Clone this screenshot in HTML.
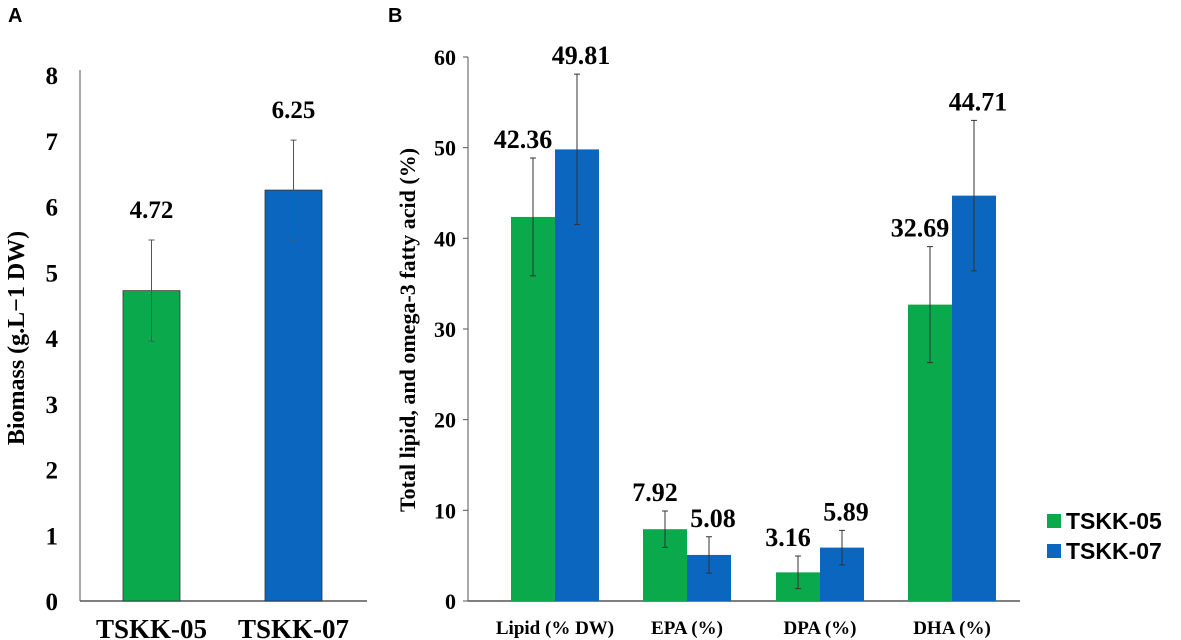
<!DOCTYPE html>
<html><head><meta charset="utf-8"><style>
body{margin:0;background:#fff;}
svg{display:block;font-family:"Liberation Serif",serif;font-weight:bold;}
</style></head><body>
<svg id="c" width="1181" height="640" viewBox="0 0 1181 640"></svg>
<script>
const aCategories=["TSKK-05","TSKK-07"];
const aValues=[4.72,6.25];
const aErrors=[0.77,0.76];
const aTicks=[0,1,2,3,4,5,6,7,8];
const bCategories=["Lipid (% DW)","EPA (%)","DPA (%)","DHA (%)"];
const bSeries05=[42.36,7.92,3.16,32.69];
const bSeries07=[49.81,5.08,5.89,44.71];
const bErr05=[6.5,2.0,1.8,6.4];
const bErr07=[8.3,2.0,1.9,8.3];
const bTicks=[0,10,20,30,40,50,60];
const seriesNames=["TSKK-05","TSKK-07"];
const G="#0aaa4c",B="#0b66c0";
const svg=document.getElementById('c');
const NS="http://www.w3.org/2000/svg";
function el(t,a,txt){const e=document.createElementNS(NS,t);for(const k in a)e.setAttribute(k,a[k]);if(txt!==undefined)e.textContent=txt;svg.appendChild(e);return e;}
// Panel A
const ay=v=>601-v*(601-75)/8;
let t=el('text',{x:8,y:22,'font-family':'Liberation Sans, sans-serif','font-size':20},'A');

let ax=el('line',{x1:80,y1:70,x2:80,y2:601,stroke:'#555','stroke-width':1});

let bx=el('line',{x1:80,y1:601,x2:367,y2:601,stroke:'#555','stroke-width':1.5});

aTicks.forEach(v=>{const e=el('text',{x:58,y:ay(v)+9,'font-size':25,'text-anchor':'end'},v);
});
t=el('text',{x:0,y:0,'font-size':24,'text-anchor':'middle',transform:'translate(24,338) rotate(-90)'},'Biomass (g.L\u22121 DW)');

const aX=[123,265],aW=57;
aCategories.forEach((c,i)=>{
 const b=el('rect',{x:aX[i],y:ay(aValues[i]),width:aW,height:601-ay(aValues[i]),fill:i?B:G,stroke:'#333','stroke-width':0.8});
 
 const cx=aX[i]+aW/2;
 const e=el('path',{d:`M${cx},${ay(aValues[i]+aErrors[i])}V${ay(aValues[i]-aErrors[i])}M${cx-3},${ay(aValues[i]+aErrors[i])}h6M${cx-3},${ay(aValues[i]-aErrors[i])}h6`,stroke:'#555','stroke-width':1,fill:'none'});
 
 const l=el('text',{x:cx,y:ay(aValues[i]+aErrors[i])-22,'font-size':25,'text-anchor':'middle'},aValues[i].toFixed(2));
 
 const xl=el('text',{x:cx,y:638,'font-size':27,'text-anchor':'middle'},c);
 
});
// Panel B
const by=v=>601-v*(601-57)/60;
t=el('text',{x:388,y:22,'font-family':'Liberation Sans, sans-serif','font-size':20},'B');

ax=el('line',{x1:468,y1:57,x2:468,y2:601,stroke:'#555','stroke-width':1});

bx=el('line',{x1:468,y1:601,x2:1020,y2:601,stroke:'#555','stroke-width':1.5});

bTicks.forEach(v=>{const e=el('line',{x1:463,y1:by(v),x2:468,y2:by(v),stroke:'#555'});

const l=el('text',{x:456,y:by(v)+8,'font-size':22,'text-anchor':'end'},v);
});
t=el('text',{x:0,y:0,'font-size':22,'text-anchor':'middle',transform:'translate(415,330) rotate(-90)'},'Total lipid, and omega-3 fatty acid (%)');

const gX=[511,643,776,908],bw=44;
bCategories.forEach((c,i)=>{
 [[bSeries05,bErr05,G],[bSeries07,bErr07,B]].forEach(([vals,errs,col],s)=>{
  const x=gX[i]+s*bw,v=vals[i],er=errs[i];
  const r=el('rect',{x:x,y:by(v),width:bw,height:601-by(v),fill:col});
  
  const cx=x+bw/2;
  const e=el('path',{d:`M${cx},${by(v+er)}V${by(v-er)}M${cx-3},${by(v+er)}h6M${cx-3},${by(v-er)}h6`,stroke:'#333','stroke-width':1,fill:'none'});
  
  const ly=by(v+er)-10;
  const lx=s===0?cx-10:cx+4;
  const l=el('text',{x:lx,y:ly,'font-size':26,'text-anchor':'middle'},v.toFixed(2));
  
 });
 const xl=el('text',{x:gX[i]+bw,y:634,'font-size':19,'text-anchor':'middle'},c);
 
});
seriesNames.forEach((n,s)=>{
 const r=el('rect',{x:1047,y:514+s*30,width:14,height:14,fill:s?B:G});
 
 const l=el('text',{x:1066,y:529+s*30,'font-family':'Liberation Sans, sans-serif','font-size':23},n);
 
});
</script>
</body></html>
